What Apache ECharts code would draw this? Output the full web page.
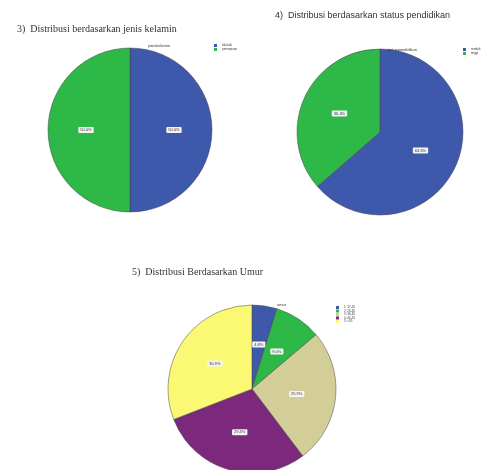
<!DOCTYPE html>
<html><head><meta charset="utf-8">
<script src="https://cdn.jsdelivr.net/npm/echarts@6/dist/echarts.min.js"></script>
<style>html,body{margin:0;padding:0;background:#fff}#c{width:488px;height:470px}</style>
</head><body><div id="c"></div>
<script>
const titles = ['3)  Distribusi berdasarkan jenis kelamin', '4)  Distribusi berdasarkan status pendidikan', '5)  Distribusi Berdasarkan Umur'];
const legendTitles = ['jeniskelamin', 'statuspendidikan', 'umur'];
const cat1 = ['laki-laki', 'perempuan'];
const val1 = [50.0, 50.0];
const cat2 = ['rendah', 'tinggi'];
const val2 = [63.6, 36.4];
const cat3 = ['1: 17-25', '2: 26-35', '3: 36-45', '4: 46-55', '5: >55'];
const val3 = [4.8, 9.0, 25.9, 29.4, 30.9];
const palette = ['#3E58AC', '#2EB848', '#D3CE97', '#7C287D', '#FBF873'];

function mk(cats, vals){ return cats.map((n,i)=>({name:n, value:vals[i], itemStyle:{color:palette[i]}})); }
const lbl = {show:true, position:'inside', formatter:p=>p.value.toFixed(1)+'%', fontSize:4, color:'#333',
  backgroundColor:'#f4f4f4', padding:[1,2], borderRadius:1};
const itemStyle = {borderColor:'#444', borderWidth:0.5};
const legCommon = {orient:'vertical', icon:'rect', itemWidth:3, itemHeight:3, padding:0,
  itemStyle:{borderWidth:0}, textStyle:{fontSize:3, color:'#333'}};
const chart = echarts.init(document.getElementById('c'));
chart.setOption({
  animation:false,
  title:[
    {text:titles[0], left:12, top:19, textStyle:{fontSize:10, fontWeight:'normal', color:'#333', fontFamily:'Liberation Serif'}},
    {text:titles[1], left:270, top:6, textStyle:{fontSize:9, fontWeight:'normal', color:'#333', fontFamily:'Liberation Sans'}},
    {text:titles[2], left:127, top:262, textStyle:{fontSize:10, fontWeight:'normal', color:'#333', fontFamily:'Liberation Serif'}},
    {text:legendTitles[0], left:143, top:39, textStyle:{fontSize:4, fontWeight:'normal', color:'#333'}},
    {text:legendTitles[1], left:382, top:43, textStyle:{fontSize:4, fontWeight:'normal', color:'#333'}},
    {text:legendTitles[2], left:272, top:298, textStyle:{fontSize:4, fontWeight:'normal', color:'#333'}}
  ],
  legend:[
    Object.assign({data:cat1, left:214, top:44, itemGap:1}, legCommon),
    Object.assign({data:cat2, left:463, top:48, itemGap:1}, legCommon),
    Object.assign({data:cat3, left:336, top:306, itemGap:0.5}, legCommon)
  ],
  series:[
    {type:'pie', center:[130,130], radius:82, startAngle:90, clockwise:true, data:mk(cat1,val1), label:lbl, labelLine:{show:false}, itemStyle, emphasis:{disabled:true}},
    {type:'pie', center:[380,132], radius:83, startAngle:90, clockwise:true, data:mk(cat2,val2), label:lbl, labelLine:{show:false}, itemStyle, emphasis:{disabled:true}},
    {type:'pie', center:[252,389], radius:84, startAngle:90, clockwise:true, data:mk(cat3,val3), label:lbl, labelLine:{show:false}, itemStyle, emphasis:{disabled:true}}
  ]
});
</script></body></html>
